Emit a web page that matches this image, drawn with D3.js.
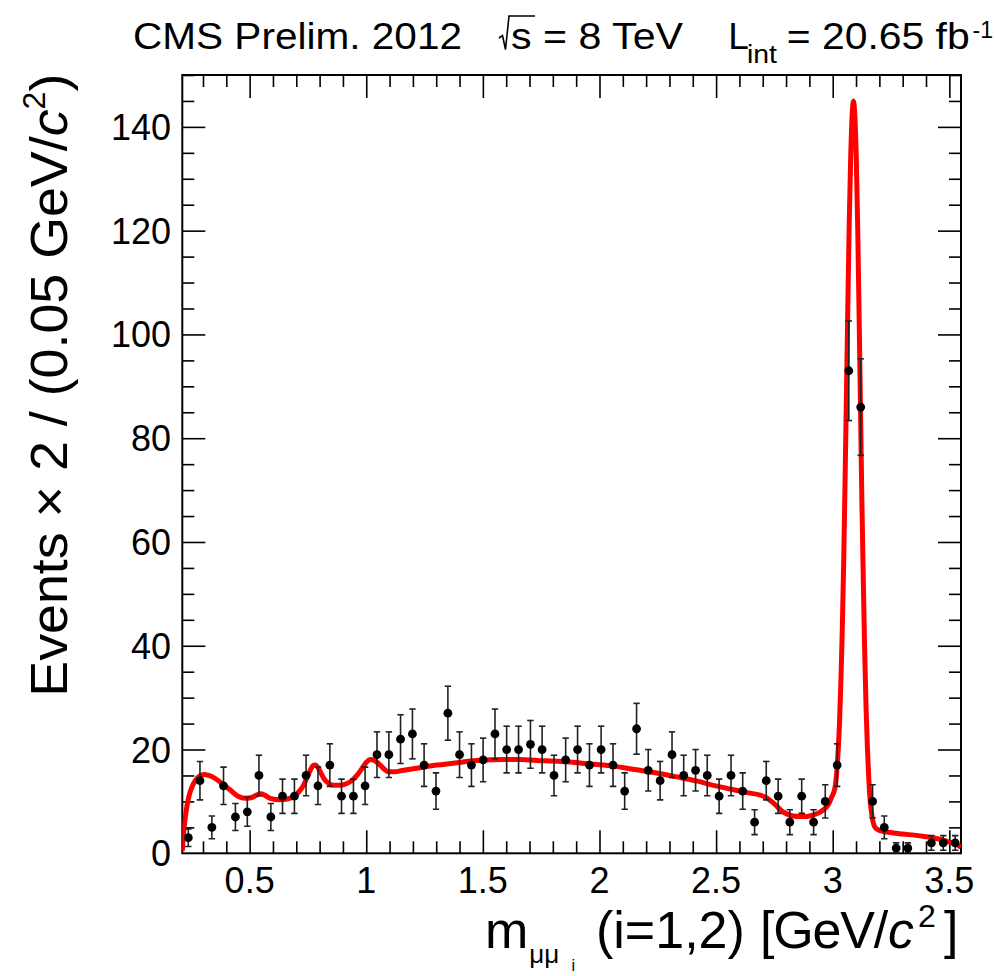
<!DOCTYPE html>
<html>
<head>
<meta charset="utf-8">
<script src="https://cdn.jsdelivr.net/npm/d3@7"></script>
<style>
    body { margin: 0; background: #fff; }
    svg { display: block; }
    text { font-family: "Liberation Sans", Arial, Helvetica, sans-serif; fill: #000; }
</style>
</head>
<body>
<div id="chart"></div>
<script>
// bin centres of the dimuon mass histogram (66 bins from 2*m_mu to 3.55 GeV)
const massCenters = [
    0.237, 0.287, 0.338, 0.388, 0.439, 0.490, 0.540, 0.591, 0.641, 0.692,
    0.742, 0.793, 0.844, 0.894, 0.945, 0.995, 1.046, 1.097, 1.147, 1.198,
    1.248, 1.299, 1.350, 1.400, 1.451, 1.501, 1.552, 1.602, 1.653, 1.704,
    1.754, 1.805, 1.855, 1.906, 1.957, 2.007, 2.058, 2.108, 2.159, 2.209,
    2.260, 2.311, 2.361, 2.412, 2.462, 2.513, 2.564, 2.614, 2.665, 2.715,
    2.766, 2.816, 2.867, 2.918, 2.968, 3.019, 3.069, 3.120, 3.171, 3.221,
    3.272, 3.322, 3.373, 3.423, 3.474, 3.525
];

const events = [
    3, 14, 5, 13, 7, 8, 15, 7, 11, 11,
    15, 13, 17, 11, 11, 13, 19, 19, 22, 23,
    17, 12, 27, 19, 17, 18, 23, 20, 20, 21,
    20, 15, 18, 20, 17, 20, 17, 12, 24, 16,
    14, 19, 15, 16, 15, 11, 15, 12, 6, 14,
    11, 6, 11, 6, 10, 17, 93, 86, 10, 5,
    1, 1, null, 2, 2, 2
];

const errors = [
    1.7, 3.7, 2.2, 3.6, 2.6, 2.8, 3.9, 2.6, 3.3, 3.3,
    3.9, 3.6, 4.1, 3.3, 3.3, 3.6, 4.4, 4.4, 4.7, 4.8,
    4.1, 3.5, 5.2, 4.4, 4.1, 4.2, 4.8, 4.5, 4.5, 4.6,
    4.5, 3.9, 4.2, 4.5, 4.1, 4.5, 4.1, 3.5, 4.9, 4.0,
    3.7, 4.4, 3.9, 4.0, 3.9, 3.3, 3.9, 3.5, 2.4, 3.7,
    3.3, 2.4, 3.3, 2.4, 3.2, 4.1, 9.6, 9.3, 3.2, 2.2,
    1.0, 1.0, 0, 1.4, 1.4, 1.4
];

// fitted curve as [mass, events]
const fitCurve = [
    [0.2113, 0.5], [0.216, 3.5], [0.224, 6.8], [0.232, 9.3], [0.240, 11.0],
    [0.252, 12.7], [0.267, 14.0], [0.285, 14.9], [0.305, 15.2], [0.325, 15.0],
    [0.350, 14.5], [0.380, 13.5], [0.417, 12.2], [0.450, 11.0], [0.481, 10.6],
    [0.505, 10.7], [0.530, 11.2], [0.548, 11.5], [0.565, 11.2], [0.588, 10.6],
    [0.631, 10.3], [0.665, 10.5], [0.688, 10.9], [0.710, 11.8], [0.731, 13.1],
    [0.748, 14.8], [0.760, 16.0], [0.772, 16.9], [0.781, 17.0], [0.792, 16.6],
    [0.803, 15.7], [0.820, 14.3], [0.838, 13.5], [0.860, 13.1], [0.888, 13.1],
    [0.915, 13.4], [0.938, 14.0], [0.960, 15.0], [0.981, 16.3], [1.000, 17.5],
    [1.017, 18.1], [1.035, 17.9], [1.053, 17.3], [1.075, 16.3], [1.096, 15.7],
    [1.120, 15.7], [1.160, 16.0], [1.230, 16.5], [1.303, 17.0], [1.380, 17.4],
    [1.446, 17.8], [1.520, 18.0], [1.588, 18.1], [1.660, 18.1], [1.732, 17.9],
    [1.800, 17.8], [1.874, 17.6], [1.960, 17.2], [2.060, 16.8], [2.130, 16.3],
    [2.203, 15.8], [2.280, 15.2], [2.346, 14.6], [2.420, 13.9], [2.489, 13.1],
    [2.560, 12.4], [2.632, 11.7], [2.690, 11.2], [2.717, 10.7], [2.740, 9.9],
    [2.760, 9.1], [2.780, 8.2], [2.803, 7.6], [2.830, 7.2], [2.860, 7.1],
    [2.890, 7.1], [2.918, 7.4], [2.940, 7.8], [2.960, 8.4], [2.980, 9.3],
    [2.996, 10.9], [3.009, 12.5], [3.017, 15.5], [3.023, 19.5], [3.029, 25],
    [3.035, 33], [3.041, 43], [3.047, 56], [3.053, 72], [3.059, 89],
    [3.065, 106], [3.071, 122], [3.077, 134], [3.083, 142], [3.089, 145],
    [3.095, 142], [3.101, 134], [3.107, 121], [3.113, 104], [3.119, 86],
    [3.125, 68], [3.131, 53], [3.137, 39], [3.143, 28], [3.149, 20],
    [3.155, 14], [3.161, 10], [3.169, 7], [3.179, 5.2], [3.195, 4.5],
    [3.220, 4.2], [3.250, 4.0], [3.300, 3.7], [3.350, 3.5], [3.400, 3.2],
    [3.450, 2.8], [3.490, 2.3], [3.520, 1.9], [3.550, 1.2]
];

const xTickValues = [0.5, 1, 1.5, 2, 2.5, 3, 3.5];
const yTickValues = [0, 20, 40, 60, 80, 100, 120, 140];

const W = 995, H = 976;
const frame = { left: 182.3, right: 961, top: 75, bottom: 853.3 };

const x = d3.scaleLinear().domain([0.2113, 3.55]).range([frame.left, frame.right]);
const y = d3.scaleLinear().domain([0, 150]).range([frame.bottom, frame.top]);

const xMinor = d3.range(0.3, 3.55, 0.1).filter(v => Math.abs(v * 2 - Math.round(v * 2)) > 1e-6);
const yMinor = d3.range(5, 151, 5).filter(v => v % 20 !== 0);

const svg = d3.select("#chart").append("svg")
    .attr("width", W)
    .attr("height", H);

svg.append("defs").append("clipPath").attr("id", "plotclip")
    .append("rect")
    .attr("x", frame.left).attr("y", frame.top)
    .attr("width", frame.right - frame.left)
    .attr("height", frame.bottom - frame.top);

// ticks on all four sides, pointing inwards
function ticks(gen, tr, values, size) {
    const g = svg.append("g")
        .attr("transform", tr)
        .call(gen.tickValues(values).tickSizeInner(size).tickSizeOuter(0).tickFormat(""));
    g.select(".domain").remove();
    g.selectAll("line").attr("stroke", "#000").attr("stroke-width", 1.6);
}
ticks(d3.axisBottom(x), `translate(0,${frame.bottom})`, xTickValues, -23);
ticks(d3.axisBottom(x), `translate(0,${frame.bottom})`, xMinor, -12);
ticks(d3.axisTop(x), `translate(0,${frame.top})`, xTickValues, -23);
ticks(d3.axisTop(x), `translate(0,${frame.top})`, xMinor, -12);
ticks(d3.axisLeft(y), `translate(${frame.left},0)`, yTickValues.slice(1), -23);
ticks(d3.axisLeft(y), `translate(${frame.left},0)`, yMinor, -12);
ticks(d3.axisRight(y), `translate(${frame.right},0)`, yTickValues.slice(1), -23);
ticks(d3.axisRight(y), `translate(${frame.right},0)`, yMinor, -12);

svg.append("rect")
    .attr("x", frame.left).attr("y", frame.top)
    .attr("width", frame.right - frame.left)
    .attr("height", frame.bottom - frame.top)
    .attr("fill", "none")
    .attr("stroke", "#000")
    .attr("stroke-width", 2);

// tick labels
svg.selectAll(".xlab")
    .data(xTickValues)
    .enter().append("text")
    .attr("class", "xlab")
    .attr("x", d => x(d))
    .attr("y", 892.7)
    .attr("text-anchor", "middle")
    .style("font-size", "36px")
    .text(d => String(d));

svg.selectAll(".ylab")
    .data(yTickValues)
    .enter().append("text")
    .attr("class", "ylab")
    .attr("x", 171)
    .attr("y", d => y(d) + 13)
    .attr("text-anchor", "end")
    .style("font-size", "36px")
    .text(d => String(d));

// fit curve
const line = d3.line()
    .x(d => x(d[0]))
    .y(d => y(d[1]))
    .curve(d3.curveMonotoneX);

svg.append("path")
    .datum(fitCurve)
    .attr("clip-path", "url(#plotclip)")
    .attr("d", line)
    .attr("fill", "none")
    .attr("stroke", "#ff0000")
    .attr("stroke-width", 5)
    .attr("stroke-linejoin", "round");

// data points with error bars
const pts = massCenters
    .map((m, i) => ({ m, v: events[i], e: errors[i] }))
    .filter(d => d.v !== null);

const eb = svg.append("g").attr("clip-path", "url(#plotclip)");
eb.selectAll(".err")
    .data(pts)
    .enter().append("line")
    .attr("x1", d => x(d.m)).attr("x2", d => x(d.m))
    .attr("y1", d => y(d.v - d.e)).attr("y2", d => y(d.v + d.e))
    .attr("stroke", "#222").attr("stroke-width", 1.6);
eb.selectAll(".capTop")
    .data(pts)
    .enter().append("line")
    .attr("x1", d => x(d.m) - 3.2).attr("x2", d => x(d.m) + 3.2)
    .attr("y1", d => y(d.v + d.e)).attr("y2", d => y(d.v + d.e))
    .attr("stroke", "#222").attr("stroke-width", 1.6);
eb.selectAll(".capBot")
    .data(pts)
    .enter().append("line")
    .attr("x1", d => x(d.m) - 3.2).attr("x2", d => x(d.m) + 3.2)
    .attr("y1", d => y(d.v - d.e)).attr("y2", d => y(d.v - d.e))
    .attr("stroke", "#222").attr("stroke-width", 1.6);
eb.selectAll("circle")
    .data(pts)
    .enter().append("circle")
    .attr("cx", d => x(d.m))
    .attr("cy", d => y(d.v))
    .attr("r", 4.4)
    .attr("fill", "#000");

// header
svg.append("text")
    .attr("x", 133).attr("y", 49.3)
    .attr("textLength", 329).attr("lengthAdjust", "spacingAndGlyphs")
    .style("font-size", "37px")
    .text("CMS Prelim. 2012");

svg.append("path")
    .attr("d", "M499,38 L502.5,35.5 L505.5,49.5 L509,16 L535,16")
    .attr("fill", "none")
    .attr("stroke", "#000")
    .attr("stroke-width", 1.6);

svg.append("text")
    .attr("x", 511).attr("y", 49.3)
    .attr("textLength", 172).attr("lengthAdjust", "spacingAndGlyphs")
    .style("font-size", "37px")
    .text("s = 8 TeV");

svg.append("text")
    .attr("x", 728.3).attr("y", 49.3)
    .style("font-size", "37px")
    .text("L");
svg.append("text")
    .attr("x", 747).attr("y", 63.3)
    .attr("textLength", 30).attr("lengthAdjust", "spacingAndGlyphs")
    .style("font-size", "25px")
    .text("int");
svg.append("text")
    .attr("x", 786.7).attr("y", 49.3)
    .attr("textLength", 183).attr("lengthAdjust", "spacingAndGlyphs")
    .style("font-size", "37px")
    .text("= 20.65 fb");
svg.append("text")
    .attr("x", 972.5).attr("y", 38.3)
    .style("font-size", "23px")
    .text("-1");

// x axis title
const xt = svg.append("text").attr("y", 948.3).style("font-size", "52px");
xt.append("tspan").attr("x", 485).text("m");
xt.append("tspan").attr("x", 529.3).attr("y", 963.3).style("font-size", "26px").text("μμ");
xt.append("tspan").attr("x", 571.5).attr("y", 971).style("font-size", "16px").text("i");
xt.append("tspan").attr("x", 596).attr("y", 948.3).text("(i=1,2)");
xt.append("tspan").attr("x", 760).style("letter-spacing", "-1.2px").text("[GeV/");
xt.append("tspan").attr("x", 888).style("font-style", "italic").style("letter-spacing", "0px").text("c");
xt.append("tspan").attr("x", 918).attr("y", 927).style("font-size", "32px").text("2");
xt.append("tspan").attr("x", 944).attr("y", 948.3).text("]");

// y axis title
const yt = svg.append("text")
    .attr("transform", "translate(66.7,696.7) rotate(-90)")
    .attr("x", 0).attr("y", 0)
    .attr("textLength", 623).attr("lengthAdjust", "spacingAndGlyphs")
    .style("font-size", "52px");
yt.append("tspan").text("Events × 2 / (0.05 GeV/");
yt.append("tspan").style("font-style", "italic").text("c");
yt.append("tspan").attr("dy", -22).style("font-size", "31px").text("2");
yt.append("tspan").attr("dy", 22).text(")");
</script>
</body>
</html>
